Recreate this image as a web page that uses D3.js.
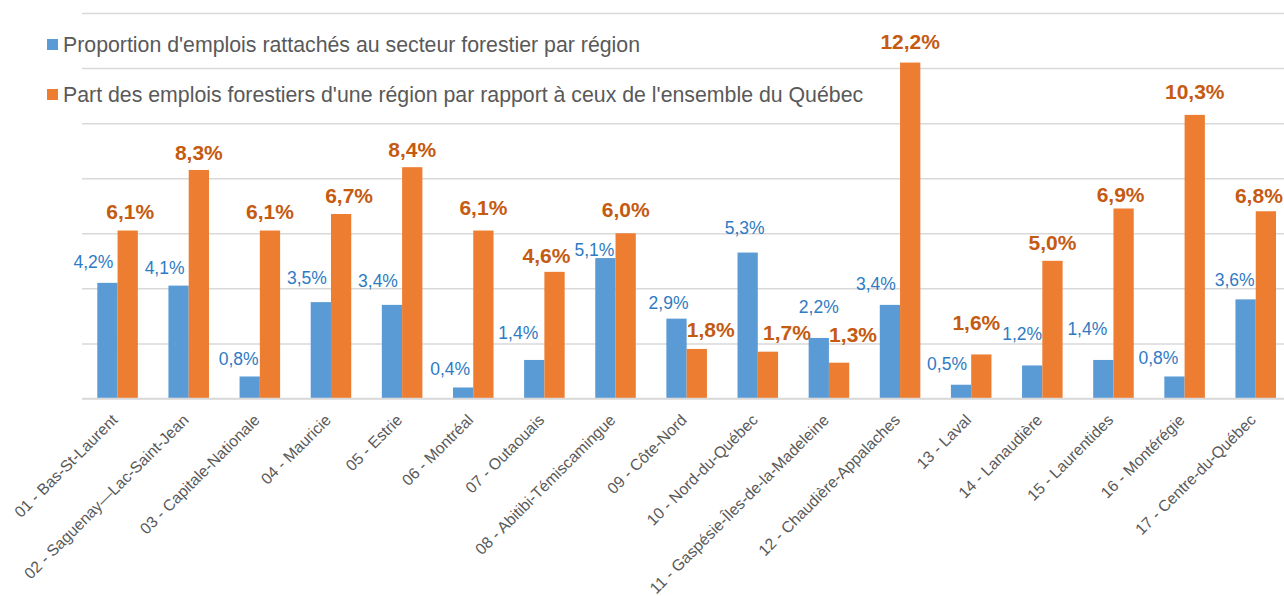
<!DOCTYPE html>
<html>
<head>
<meta charset="utf-8">
<script src="https://cdn.jsdelivr.net/npm/d3@7/dist/d3.min.js"></script>
<style>
  html, body { margin: 0; padding: 0; background: #fff; }
  svg { display: block; font-family: "Liberation Sans", Arial, sans-serif; }
</style>
</head>
<body>
<svg id="chart" width="1284" height="596"></svg>
<script>
// ---- data ----
const categories = [
  "01 - Bas-St-Laurent",
  "02 - Saguenay\u2014Lac-Saint-Jean",
  "03 - Capitale-Nationale",
  "04 - Mauricie",
  "05 - Estrie",
  "06 - Montréal",
  "07 - Outaouais",
  "08 - Abitibi-Témiscamingue",
  "09 - Côte-Nord",
  "10 - Nord-du-Québec",
  "11 - Gaspésie-Îles-de-la-Madeleine",
  "12 - Chaudière-Appalaches",
  "13 - Laval",
  "14 - Lanaudière",
  "15 - Laurentides",
  "16 - Montérégie",
  "17 - Centre-du-Québec"
];
const seriesNames = [
  "Proportion d'emplois rattachés au secteur forestier par région",
  "Part des emplois forestiers d'une région par rapport à ceux de l'ensemble du Québec"
];
const proportionValues = [4.2, 4.1, 0.8, 3.5, 3.4, 0.4, 1.4, 5.1, 2.9, 5.3, 2.2, 3.4, 0.5, 1.2, 1.4, 0.8, 3.6];
const partValues       = [6.1, 8.3, 6.1, 6.7, 8.4, 6.1, 4.6, 6.0, 1.8, 1.7, 1.3, 12.2, 1.6, 5.0, 6.9, 10.3, 6.8];
const yTicks = [0, 2, 4, 6, 8, 10, 12, 14];

// ---- label nudges (layout only) ----
const blueDx = [-14,-14,-11,-14,-14,-13,-16,-11,-8,-3,0,-14,-14,-10,-16,-16,-11];
const blueDy = [-14.5,-11.6,-11.5,-18,-18,-12.5,-21,-2,-10,-18.5,-24.6,-15,-14.7,-25,-25,-12.5,-13];
const orangeDx = [2.5,0,0,8,0,0,-8,0,14,19,14,0,-5,0,-3,0,-7];
const orangeDy = [-11.5,-10,-11.5,-10.7,-10.5,-15.5,-9,-16,-12,-12,-21,-14,-24,-11,-7,-15.5,-8];

const colors = ["#5B9BD5", "#ED7D31"];
const labelColors = ["#2E7BC4", "#C55A11"];
const fmt = v => d3.format(".1f")(v).replace(".", ",") + "%";

const svg = d3.select("#chart");
const plotLeft = 82, plotRight = 1291.3, plotTop = 13, plotBottom = 398.5;

const x0 = d3.scaleBand().domain(categories).range([plotLeft, plotRight]).paddingInner(0).paddingOuter(0);
const step = x0.step();
const barW = step * 0.285;
const x1 = d3.scaleBand().domain([0, 1]).range([0, barW * 2]);
const groupOffset = (step - barW * 2) / 2;
const y = d3.scaleLinear().domain([0, 14]).range([plotBottom, plotTop]);

// gridlines
const yAxis = d3.axisLeft(y).tickValues(yTicks).tickSize(-(1284 - plotLeft)).tickFormat("");
const gy = svg.append("g").attr("transform", `translate(${plotLeft},0)`).call(yAxis);
gy.select(".domain").remove();
gy.selectAll(".tick line").attr("stroke", "#D9D9D9").attr("stroke-width", 1.5);

// bars
const groups = svg.append("g").selectAll("g").data(categories).join("g")
  .attr("transform", d => `translate(${x0(d) + groupOffset},0)`);

[proportionValues, partValues].forEach((vals, s) => {
  groups.append("rect")
    .attr("x", x1(s))
    .attr("width", x1.bandwidth())
    .attr("y", (d, i) => y(vals[i]))
    .attr("height", (d, i) => plotBottom - y(vals[i]))
    .attr("fill", colors[s]);
});

// value labels
groups.append("text")
  .attr("x", (d, i) => x1(0) + x1.bandwidth() / 2 + blueDx[i])
  .attr("y", (d, i) => y(proportionValues[i]) + blueDy[i])
  .attr("text-anchor", "middle")
  .attr("font-size", 17.5)
  .attr("fill", labelColors[0])
  .text((d, i) => fmt(proportionValues[i]));

groups.append("text")
  .attr("x", (d, i) => x1(1) + x1.bandwidth() / 2 + orangeDx[i])
  .attr("y", (d, i) => y(partValues[i]) + orangeDy[i])
  .attr("text-anchor", "middle")
  .attr("font-size", 21)
  .attr("font-weight", "bold")
  .attr("fill", labelColors[1])
  .text((d, i) => fmt(partValues[i]));

// baseline
svg.append("line").attr("x1", plotLeft).attr("x2", 1284).attr("y1", plotBottom).attr("y2", plotBottom)
  .attr("stroke", "#D9D9D9").attr("stroke-width", 1.5);

// x axis labels
svg.append("g").selectAll("text").data(categories).join("text")
  .attr("transform", d => `translate(${x0(d) + step / 2 + 1},${plotBottom + 22.5}) rotate(-45)`)
  .attr("text-anchor", "end")
  .attr("font-size", 15.8)
  .attr("fill", "#595959")
  .text(d => d);

// legend
const leg = svg.append("g").selectAll("g").data(seriesNames).join("g")
  .attr("transform", (d, i) => `translate(47,${39 + i * 50})`);
leg.append("rect").attr("width", 11).attr("height", 11).attr("fill", (d, i) => colors[i]);
leg.append("text").attr("x", 16).attr("y", 13).attr("font-size", 21.3).attr("fill", "#595959").text(d => d);
</script>
</body>
</html>
